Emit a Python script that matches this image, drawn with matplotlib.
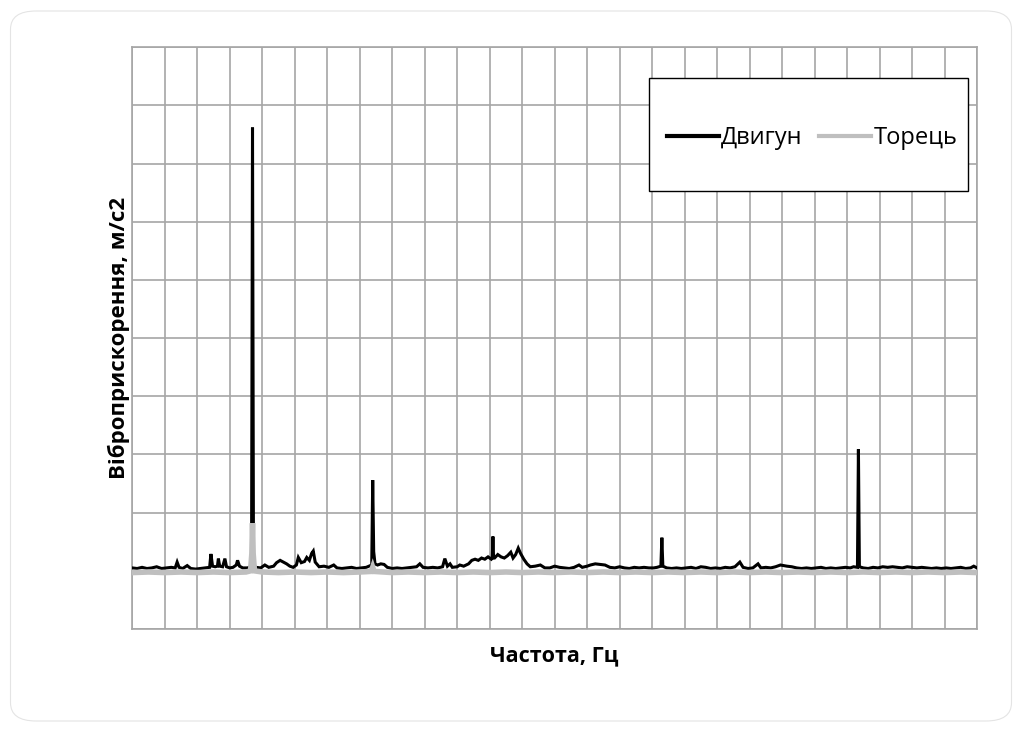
import matplotlib
matplotlib.use("Agg")
import matplotlib.pyplot as plt
from matplotlib.patches import FancyBboxPatch, Rectangle
from matplotlib.lines import Line2D

plt.rcParams['font.family'] = ['Open Sans', 'DejaVu Sans']

# Двигун (motor) spectrum, x in grid units (26 columns), y in grid units
dvigun_f = [0.0, 0.15, 0.3, 0.45, 0.6, 0.75, 0.9, 1.05, 1.2, 1.32, 1.38, 1.44, 1.55, 1.69, 1.8,
            1.95, 2.1, 2.25, 2.38, 2.42, 2.47, 2.55, 2.62, 2.65, 2.69, 2.78, 2.85, 2.9, 3.0, 3.1,
            3.2, 3.24, 3.3, 3.4, 3.55, 3.67, 3.70, 3.73, 3.8, 3.95, 4.08, 4.2, 4.35, 4.44, 4.55,
            4.65, 4.75, 4.85, 4.95, 5.05, 5.11, 5.2, 5.3, 5.37, 5.45, 5.52, 5.57, 5.63, 5.75, 5.9,
            6.05, 6.2, 6.3, 6.45, 6.6, 6.75, 6.9, 7.05, 7.2, 7.37, 7.40, 7.43, 7.47, 7.55, 7.65,
            7.75, 7.85, 8.0, 8.15, 8.3, 8.45, 8.6, 8.75, 8.85, 8.95, 9.1, 9.25, 9.4, 9.55, 9.62,
            9.7, 9.78, 9.85, 10.0, 10.08, 10.2, 10.35, 10.45, 10.55, 10.65, 10.75, 10.85, 10.95, 11.05, 11.08,
            11.1, 11.12, 11.15, 11.25, 11.35, 11.45, 11.55, 11.65, 11.72, 11.8, 11.88, 11.95, 12.05, 12.15, 12.25,
            12.4, 12.56, 12.7, 12.85, 13.0, 13.15, 13.3, 13.45, 13.6, 13.75, 13.85, 14.0, 14.1, 14.25, 14.4,
            14.55, 14.7, 14.85, 15.0, 15.15, 15.3, 15.45, 15.6, 15.75, 15.9, 16.05, 16.15, 16.27, 16.3, 16.33,
            16.45, 16.6, 16.75, 16.9, 17.05, 17.2, 17.35, 17.5, 17.65, 17.8, 17.95, 18.1, 18.25, 18.4, 18.55,
            18.7, 18.8, 18.95, 19.1, 19.26, 19.35, 19.5, 19.65, 19.8, 19.95, 20.05, 20.15, 20.3, 20.45, 20.6,
            20.75, 20.9, 21.05, 21.2, 21.35, 21.5, 21.65, 21.8, 21.95, 22.1, 22.2, 22.32, 22.35, 22.38, 22.5,
            22.65, 22.8, 22.95, 23.1, 23.25, 23.4, 23.55, 23.7, 23.85, 24.0, 24.15, 24.3, 24.45, 24.6, 24.75,
            24.9, 25.05, 25.2, 25.35, 25.5, 25.65, 25.8, 25.9, 26.0]
dvigun_a = [0.05, 0.04, 0.06, 0.04, 0.05, 0.07, 0.04, 0.05, 0.06, 0.05, 0.15, 0.06, 0.04, 0.09, 0.04,
            0.03, 0.04, 0.05, 0.06, 0.29, 0.08, 0.07, 0.08, 0.21, 0.08, 0.07, 0.21, 0.07, 0.05, 0.06,
            0.10, 0.18, 0.08, 0.05, 0.05, 0.08, 7.62, 0.10, 0.06, 0.05, 0.10, 0.06, 0.08, 0.14, 0.18,
            0.15, 0.12, 0.08, 0.06, 0.10, 0.23, 0.14, 0.16, 0.23, 0.18, 0.30, 0.34, 0.15, 0.07, 0.08,
            0.06, 0.10, 0.05, 0.04, 0.05, 0.06, 0.04, 0.05, 0.06, 0.10, 1.56, 0.33, 0.12, 0.10, 0.12,
            0.11, 0.06, 0.04, 0.05, 0.04, 0.05, 0.06, 0.07, 0.12, 0.06, 0.05, 0.06, 0.05, 0.07, 0.21,
            0.08, 0.12, 0.06, 0.07, 0.10, 0.08, 0.12, 0.18, 0.20, 0.18, 0.22, 0.20, 0.24, 0.20, 0.22,
            0.59, 0.22, 0.22, 0.28, 0.24, 0.22, 0.26, 0.32, 0.22, 0.28, 0.39, 0.30, 0.20, 0.12, 0.07,
            0.08, 0.10, 0.05, 0.05, 0.08, 0.06, 0.05, 0.04, 0.06, 0.10, 0.06, 0.08, 0.10, 0.12, 0.11,
            0.10, 0.06, 0.05, 0.07, 0.05, 0.04, 0.06, 0.05, 0.06, 0.05, 0.05, 0.06, 0.08, 0.57, 0.08,
            0.05, 0.04, 0.05, 0.04, 0.05, 0.06, 0.04, 0.07, 0.06, 0.04, 0.05, 0.04, 0.06, 0.05, 0.07,
            0.15, 0.06, 0.04, 0.05, 0.12, 0.05, 0.06, 0.05, 0.07, 0.10, 0.09, 0.08, 0.07, 0.05, 0.04,
            0.05, 0.04, 0.05, 0.06, 0.04, 0.05, 0.04, 0.05, 0.06, 0.05, 0.07, 0.06, 2.09, 0.07, 0.05,
            0.04, 0.06, 0.05, 0.07, 0.06, 0.07, 0.06, 0.05, 0.07, 0.06, 0.05, 0.06, 0.05, 0.04, 0.05,
            0.04, 0.05, 0.04, 0.05, 0.06, 0.04, 0.05, 0.08, 0.05]

# Торець (end face) spectrum
torets_f = [0.0, 0.5, 1.0, 1.5, 2.0, 2.5, 3.0, 3.5, 3.64, 3.68, 3.70, 3.72, 3.76, 4.0, 4.5,
            5.0, 5.5, 6.0, 6.5, 7.0, 7.36, 7.40, 7.44, 8.0, 8.5, 9.0, 9.5, 10.0, 10.5, 11.0,
            11.5, 12.0, 12.5, 13.0, 13.5, 14.0, 14.5, 15.0, 15.5, 16.0, 16.5, 17.0, 17.5, 18.0,
            18.5, 19.0, 19.5, 20.0, 20.5, 21.0, 21.5, 22.0, 22.5, 23.0, 23.5, 24.0, 24.5, 25.0,
            25.5, 26.0]
torets_a = [-0.03, -0.02, -0.03, -0.02, -0.03, -0.02, -0.03, -0.02, 0.0, 0.3, 0.82, 0.3, 0.0, -0.02, -0.03,
            -0.02, -0.03, -0.02, -0.03, -0.02, -0.01, 0.06, -0.01, -0.03, -0.02, -0.03, -0.02, -0.03, -0.02, -0.03,
            -0.02, -0.03, -0.02, -0.03, -0.02, -0.03, -0.02, -0.03, -0.02, -0.03, -0.02, -0.03, -0.02, -0.03,
            -0.02, -0.03, -0.02, -0.03, -0.02, -0.03, -0.02, -0.03, -0.02, -0.03, -0.02, -0.03, -0.02, -0.03,
            -0.02, -0.03]

grid_color = '#a6a6a6'

fig = plt.figure(figsize=(10.22, 7.31), dpi=100)
W, H = 1022, 731

# faint rounded chart border
border = FancyBboxPatch((10.5 / W, 10 / H), (1001 / W), (710 / H),
                        boxstyle="round,pad=0,rounding_size=0.025",
                        transform=fig.transFigure, facecolor='none',
                        edgecolor='#e4e4e4', linewidth=0.8)
fig.patches.append(border)

ax = fig.add_axes([132.3 / W, (H - 629) / H, (977 - 132.3) / W, (629 - 47.3) / H])
ax.set_xlim(0, 26)
ax.set_ylim(-1, 9)
ax.set_xticks(range(0, 27))
ax.set_yticks(range(-1, 10))
ax.tick_params(length=0, labelbottom=False, labelleft=False)
ax.grid(True, color=grid_color, linewidth=1.2)
ax.set_axisbelow(True)
for s in ax.spines.values():
    s.set_color(grid_color)
    s.set_linewidth(1.2)

ax.plot(dvigun_f, dvigun_a, color='black', linewidth=2.2, solid_joinstyle='miter', zorder=3)
ax.plot(torets_f, torets_a, color='#bfbfbf', linewidth=4.0, solid_joinstyle='miter', zorder=4)

ax.set_xlabel('Частота, Гц', fontsize=15.5, fontweight='bold', labelpad=12)
ax.set_ylabel('Віброприскорення, м/с2', fontsize=16, fontweight='bold', labelpad=2)

# legend box
x0, y0 = (649 - 132.3) / (977 - 132.3), (629 - 191) / (629 - 47.3)
w, h = (968 - 649) / (977 - 132.3), (191 - 78) / (629 - 47.3)
ax.add_patch(Rectangle((x0, y0), w, h, transform=ax.transAxes, facecolor='white',
                       edgecolor='black', linewidth=1.0, zorder=5))
handles = [Line2D([], [], color='black', linewidth=3),
           Line2D([], [], color='#bfbfbf', linewidth=3)]
leg = ax.legend(handles, ['Двигун', 'Торець'], loc='center', ncol=2,
                bbox_to_anchor=(x0 + w / 2 + 0.004, y0 + h / 2 - 0.006), frameon=False,
                fontsize=17, handlelength=2.2, handletextpad=0.1, columnspacing=0.7)
leg.set_zorder(6)

fig.savefig('out.png', dpi=100, facecolor='white')
